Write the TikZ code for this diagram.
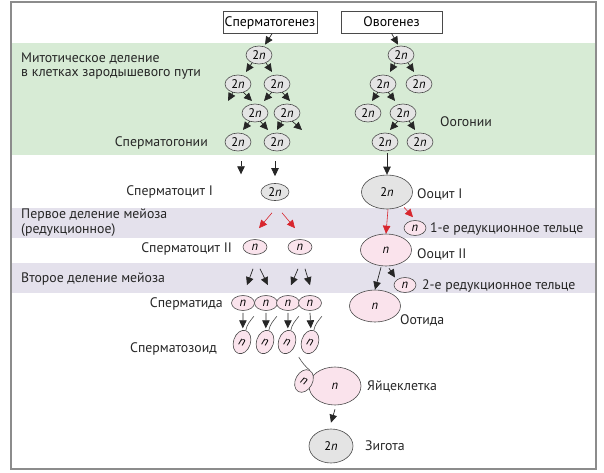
\documentclass[tikz,border=0pt]{standalone}
\usepackage{fontspec}
\setmainfont{PT Sans}
\usetikzlibrary{shapes.geometric,arrows.meta,calc}
\definecolor{bandgreen}{HTML}{D7EBD5}
\definecolor{bandpurple}{HTML}{E4E1EC}
\definecolor{cellgray}{HTML}{E4E4E4}
\definecolor{cellpink}{HTML}{FAE3EC}
\definecolor{arrred}{HTML}{D8262E}
\definecolor{edgecol}{HTML}{4A4A4A}
\definecolor{framecol}{HTML}{8C8C8C}
\begin{document}
\begin{tikzpicture}[x=1pt,y=-1pt,
  cell/.style={ellipse,draw=edgecol,line width=0.6pt,inner sep=0pt,font=\fontsize{12.5}{12}\selectfont},
  gtwo/.style={cell,fill=cellgray,minimum width=26pt,minimum height=18pt},
  pn/.style={cell,fill=cellpink,minimum width=23pt,minimum height=15pt},
  spz/.style={cell,fill=cellpink,minimum width=17pt,minimum height=24pt,rotate=-18},
  big/.style={cell,minimum width=51pt,minimum height=34pt},
  lbl/.style={inner sep=0pt,font=\fontsize{13.8}{15}\selectfont,text=black!85},
  hbox/.style={draw=edgecol,line width=0.6pt,fill=white,inner sep=0pt,minimum height=22pt,font=\fontsize{13.8}{15}\selectfont},
  arr/.style={-{Triangle[length=8pt,width=7.5pt]},line width=0.7pt,black!85},
  rarr/.style={-{Triangle[length=8pt,width=7.5pt]},line width=0.6pt,arrred},
  tail/.style={line width=0.6pt,edgecol}
]
\useasboundingbox (0,0) rectangle (604,473);
% bands
\fill[bandgreen] (11,43) rectangle (596,155);
\fill[bandpurple] (11,208) rectangle (596,238);
\fill[bandpurple] (11,263) rectangle (596,293);
\draw[framecol,line width=1.4pt] (11,2) rectangle (596,469);

% headers
\node[hbox,minimum width=94pt] (hs) at (270,22.5) {Сперматогенез};
\node[hbox,minimum width=101pt] (ho) at (391.5,22) {Овогенез};

% labels
\node[lbl,anchor=west] (l1) at (21,59) {Митотическое деление};
\node[lbl,anchor=west] (l2) at (21,74) {в клетках зародышевого пути};
\node[lbl,anchor=east] (l3) at (208,143) {Сперматогонии};
\node[lbl,anchor=west] (l4) at (440,122) {Оогонии};
\node[lbl,anchor=east] (l5) at (213,192) {Сперматоцит I};
\node[lbl,anchor=west] (l6) at (21,215) {Первое деление мейоза};
\node[lbl,anchor=west] (l7) at (21,230) {(редукционное)};
\node[lbl,anchor=east] (l8) at (232,249) {Сперматоцит II};
\node[lbl,anchor=west] (l9) at (21,279) {Второе деление мейоза};
\node[lbl,anchor=east] (l10) at (223,304) {Сперматида};
\node[lbl,anchor=east] (l11) at (217,349) {Сперматозоид};
\node[lbl,anchor=west] (l12) at (417,194) {Ооцит I};
\node[lbl,anchor=west] (l13) at (430,229) {1-е редукционное тельце};
\node[lbl,anchor=west] (l14) at (417,254) {Ооцит II};
\node[lbl,anchor=west] (l15) at (422,286) {2-е редукционное тельце};
\node[lbl,anchor=west] (l16) at (400,320) {Оотида};
\node[lbl,anchor=west] (l17) at (367,386) {Яйцеклетка};
\node[lbl,anchor=west] (l18) at (365,446) {Зигота};

% spermatogonia tree
\node[gtwo] (s0) at (259,55) {2\textit{n}};
\node[gtwo] (s1a) at (238,84) {2\textit{n}};
\node[gtwo] (s1b) at (277,84) {2\textit{n}};
\node[gtwo] (s2a) at (255,113) {2\textit{n}};
\node[gtwo] (s2b) at (287,113) {2\textit{n}};
\node[gtwo] (s3a) at (238,142) {2\textit{n}};
\node[gtwo] (s3b) at (277,142) {2\textit{n}};
\draw[arr] (hs.south) ++(2,0) -- ($(s0.north)+(6,-1)$);
\draw[arr] ($(s0)+(-7,8)$) -- ++(-6,9);
\draw[arr] ($(s0)+(7,8)$) -- ++(6,9);
\draw[arr] ($(s1a)+(-5,8)$) -- ++(-5,9);
\draw[arr] ($(s1a)+(5,8)$) -- ++(9,9);
\draw[arr] ($(s1b)+(-5,8)$) -- ++(-8,9);
\draw[arr] ($(s1b)+(5,8)$) -- ++(8,9);
\draw[arr] ($(s2a)+(-5,8)$) -- ++(-7,9);
\draw[arr] ($(s2a)+(5,8)$) -- ++(8,9);
\draw[arr] ($(s2b)+(-5,8)$) -- ++(-5,9);
\draw[arr] ($(s2b)+(5,8)$) -- ++(10,9);

% oogonia tree
\node[gtwo] (o0) at (401,55) {2\textit{n}};
\node[gtwo] (o1a) at (383,84) {2\textit{n}};
\node[gtwo] (o1b) at (419,84) {2\textit{n}};
\node[gtwo] (o2a) at (368,113) {2\textit{n}};
\node[gtwo] (o2b) at (403,113) {2\textit{n}};
\node[gtwo] (o3a) at (385,142) {2\textit{n}};
\node[gtwo] (o3b) at (420,142) {2\textit{n}};
\draw[arr] (ho.south) ++(0,0) -- ($(o0.north)+(-3,-1)$);
\draw[arr] ($(o0)+(-6,8)$) -- ++(-5,9);
\draw[arr] ($(o0)+(7,8)$) -- ++(6,9);
\draw[arr] ($(o1a)+(-5,8)$) -- ++(-6,9);
\draw[arr] ($(o1a)+(5,8)$) -- ++(7,9);
\draw[arr] ($(o2b)+(-5,8)$) -- ++(-8,9);
\draw[arr] ($(o2b)+(6,8)$) -- ++(6,9);

% spermatocytes
\node[gtwo,minimum width=28pt,minimum height=17pt] (sc1) at (275,192) {2\textit{n}};
\draw[arr] ($(s3a.south)+(3,10)$) -- ++(0,13);
\draw[arr] ($(s3b.south)+(-2,10)$) -- ($(sc1.north)+(0,-7)$);
\node[pn,minimum width=24pt] (sc2a) at (255,247) {\textit{n}};
\node[pn,minimum width=24pt] (sc2b) at (300,247) {\textit{n}};
\draw[rarr] ($(sc1.south)+(-3,12)$) -- ($(sc2a.north)+(4,-11)$);
\draw[rarr] ($(sc1.south)+(7,12)$) -- ($(sc2b.north)+(-5,-11)$);

% spermatids
\node[pn] (t1) at (243,303) {\textit{n}};
\node[pn] (t2) at (266,303) {\textit{n}};
\node[pn] (t3) at (288,303) {\textit{n}};
\node[pn] (t4) at (310,303) {\textit{n}};
\draw[arr] ($(sc2a.south)+(-2,14)$) -- ($(t1.north)+(4,-10)$);
\draw[arr] ($(sc2a.south)+(5,14)$) -- ($(t2.north)+(2,-10)$);
\draw[arr] ($(sc2b.south)+(-2,14)$) -- ($(t3.north)+(3,-10)$);
\draw[arr] ($(sc2b.south)+(5,14)$) -- ($(t4.north)+(0,-10)$);

% spermatozoa
\node[spz] (z1) at (242,342) {\textit{n}};
\node[spz] (z2) at (265,342) {\textit{n}};
\node[spz] (z3) at (287,342) {\textit{n}};
\node[spz] (z4) at (310,342) {\textit{n}};
\foreach \t/\z in {t1/z1,t2/z2,t3/z3,t4/z4}{
  \draw[arr] ($(\t.south)+(0,2)$) -- ($(\z.north)+(-3,-2)$);
  \draw[tail] (\z.north) .. controls +(1,-6) and +(-3,4) .. +(8,-14);
}

% oogenesis lower part
\node[big,fill=cellgray] (oc1) at (387,192) {2\textit{n}};
\draw[arr] ($(o3a.south)+(2,2)$) -- (oc1.north);
\node[big,fill=cellpink,minimum height=32pt] (oc2) at (386,250) {\textit{n}};
\node[pn,minimum width=22pt] (p1) at (415,228) {\textit{n}};
\draw[rarr] ($(oc1.south)+(1,0)$) -- (oc2.north);
\draw[rarr] ($(oc1.south)+(17,-2)$) -- ($(p1.north)+(-2,-3)$);
\node[big,fill=cellpink,minimum height=32pt] (otd) at (375,306) {\textit{n}};
\node[pn,minimum width=22pt] (p2) at (405,285) {\textit{n}};
\draw[arr] ($(oc2.south)+(-5,1)$) -- (otd.north);
\draw[arr] ($(oc2.south)+(3,2)$) -- ($(p2.north west)+(-2,-2)$);

% fertilisation
\node[big,fill=cellpink,minimum width=52pt,minimum height=38pt] (egg) at (335,386) {\textit{n}};
\node[spz,rotate=-10] (zf) at (304,381) {\textit{n}};
\draw[tail] (zf.north) .. controls +(-4,-3) and +(3,5) .. +(-11,-13);
\node[big,fill=cellgray,minimum width=44pt,minimum height=34pt] (zyg) at (331,446) {2\textit{n}};
\draw[arr] ($(egg.south)+(0,4)$) -- ($(zyg.north)+(0,-6)$);
\end{tikzpicture}
\end{document}
